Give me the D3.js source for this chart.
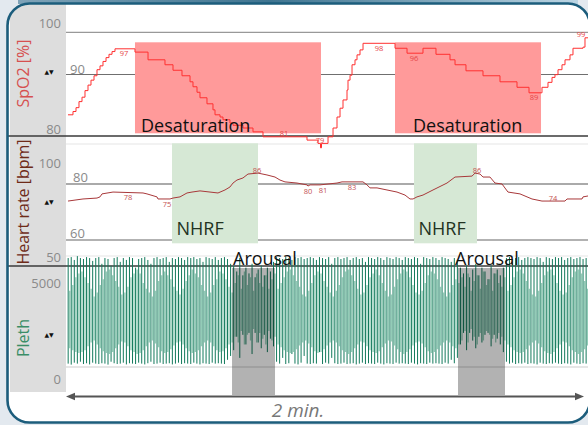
<!DOCTYPE html>
<html><head><meta charset="utf-8">
<script src="https://cdn.jsdelivr.net/npm/d3@7"></script>
<style>html,body{margin:0;padding:0;background:#e3e9ef;overflow:hidden} svg{display:block;font-family:"Open Sans",sans-serif}</style>
</head><body><svg id="c" width="588" height="425"></svg>
<script>
// ---------------- DATA ----------------
// SpO2 [%] (step trace), time in seconds
const spo2Time = [0.46,1.62,2.32,3.01,3.71,4.40,5.10,5.79,6.49,7.18,7.88,8.57,9.27,9.96,10.66,11.35,15.98,19.00,22.93,24.79,26.87,28.73,29.42,30.35,31.04,32.66,34.05,34.52,35.68,36.37,37.99,38.69,41.00,43.32,45.64,55.83,58.38,58.96,59.19,60.70,61.86,62.78,63.48,64.17,65.10,65.33,65.80,66.26,66.95,67.42,68.11,68.81,76.22,79.00,82.70,85.71,88.96,90.12,92.66,96.60,100.54,104.48,107.26,110.27,111.66,112.59,113.28,113.98,114.90,115.60,116.76,117.45,119.77,120.23,121.39];
const spo2Value = [85.0,85.6,86.3,87.4,88.2,89.4,90.4,91.3,92.1,93.2,93.9,94.7,95.4,96.0,96.5,97.0,96.4,95.0,94.1,93.1,92.1,91.0,90.1,89.1,88.1,87.0,85.9,85.0,84.6,84.1,83.5,83.1,82.6,81.9,81.0,80.4,79.8,79.0,79.8,81.0,82.6,84.6,86.2,87.7,89.5,91.3,92.2,94.1,95.0,95.9,96.8,98.0,97.1,96.2,97.1,96.0,95.0,94.1,93.0,92.1,91.0,90.0,89.0,90.0,90.9,91.8,92.3,93.2,94.1,95.0,95.9,97.1,97.3,99.0,99.0];
const spo2Labels = [
  {t:13.44,v:97.0,text:"97",side:"below"},
  {t:50.50,v:81.0,text:"81",side:"above"},
  {t:58.84,v:79.8,text:"79",side:"above"},
  {t:72.51,v:98.0,text:"98",side:"below"},
  {t:80.62,v:96.2,text:"96",side:"below"},
  {t:108.42,v:89.0,text:"89",side:"below"},
  {t:119.30,v:99.0,text:"99",side:"above"}
];
const spo2Ticks = [100, 90, 80];

// Heart rate [bpm]
const hrTime = [0.46,3.94,7.18,7.88,8.34,10.89,17.84,18.76,21.08,21.31,24.09,24.79,26.41,28.03,29.19,31.04,35.21,36.83,37.99,38.69,39.61,41.00,42.16,44.48,46.56,48.42,49.57,50.73,53.51,55.83,56.06,56.53,58.84,62.78,63.94,68.80,69.73,70.42,72.05,74.36,76.68,78.53,79.69,80.39,81.31,82.70,85.02,88.26,90.12,94.05,94.75,95.91,96.60,98.22,99.38,101.00,102.39,105.17,107.95,110.27,115.60,116.06,119.54,119.77,120.93];
const hrValue = [74.0,74.9,75.3,75.8,77.1,77.9,77.5,77.1,75.8,74.9,74.9,75.3,75.8,77.5,77.9,78.4,77.5,78.8,80.1,81.8,83.1,84.0,85.7,86.1,85.3,84.4,83.1,82.3,81.8,81.0,80.5,81.0,81.0,81.8,82.3,82.3,81.0,79.7,79.7,78.8,77.9,76.6,74.9,74.9,75.8,76.6,78.8,81.8,84.4,84.8,86.1,85.7,84.4,84.4,81.8,81.4,77.9,77.1,74.9,74.0,74.0,74.9,74.9,75.8,76.2];
const hrLabels = [
  {t:14.36,v:77.9,text:"78",side:"below"},
  {t:23.40,v:74.9,text:"75",side:"below"},
  {t:44.25,v:86.1,text:"86",side:"above"},
  {t:56.06,v:80.5,text:"80",side:"below"},
  {t:59.54,v:81.0,text:"81",side:"below"},
  {t:66.26,v:82.3,text:"83",side:"below"},
  {t:95.21,v:86.1,text:"86",side:"above"},
  {t:112.82,v:74.0,text:"74",side:"above"}
];
const hrTicks = [100, 80, 60, 50];

// Pleth: one entry per beat (beats sampled every plethBeatInterval s from plethStart)
const plethStart = 0.5, plethBeatInterval = 0.71;
const plethPeak = [
6300,6350,6200,6400,6300,6250,6350,6300,6150,6300,
6350,6000,6300,6250,5900,6300,6350,6100,6300,6200,
6350,6300,5800,6250,6300,6350,6200,6000,6300,6350,
6250,6300,6350,6100,6300,6250,6350,6300,6200,6350,
6300,6350,6250,6300,6100,6350,6300,6250,6350,6200,
6300,6350,6250,6000,
5900,5600,6300,5400,5800,5500,6000,5300,5700,5900,5400,5800,5600,6100,
6350,6300,6250,6350,6300,6200,6350,6300,6350,6250,6300,6350,
6300,6200,6350,6300,6250,6350,6000,6300,6350,6250,
6300,6350,6200,6300,6350,6250,6300,6100,6350,6300,
6250,6350,6300,6200,6350,6300,6250,6350,6300,6200,
6350,6300,6250,6350,6300,6000,6350,6300,6250,6350,
6300,6200,6350,6300,6250,6100,6300,6200,
5800,5500,5900,5300,5700,6000,5400,5800,5600,5200,5900,5500,5700,5400,5800,
6300,6350,6250,6300,6350,6200,6300,
6350,6300,6250,6350,6300,6100,6350,6300,6250,6350,
6300,6350,6200,6300,6350,6250,6300,6350,6250,6300];
const plethTrough = [
800,750,850,800,900,780,820,760,850,800,
780,820,800,750,900,820,780,800,850,760,
820,800,780,850,800,760,820,900,780,800,
850,780,800,820,760,800,850,780,820,800,
780,850,800,760,820,800,780,850,800,820,
800,780,1000,1200,
1500,2200,1100,2300,1800,2400,1300,2400,1900,1600,2300,1400,2100,1700,
900,800,1100,780,820,1300,800,760,850,1200,800,780,
820,800,1400,780,850,800,1100,820,780,800,
850,780,800,820,760,800,850,780,820,800,
780,850,800,760,820,800,780,850,800,820,
800,780,850,800,760,820,800,780,850,800,
820,800,780,850,800,1000,820,1100,
1800,2400,1500,2400,2000,1600,2200,1900,2300,2400,1700,2300,2100,1800,1400,
900,800,850,780,820,800,850,
780,820,800,760,850,800,780,820,800,850,
800,780,820,800,760,850,800,780,820,800];
const plethInnerHigh = [
4600,4900,5300,5500,5600,5300,5000,4700,4300,4500,
4900,5200,5600,5700,5400,5100,4800,4400,4500,4800,
5300,5500,5700,5500,5000,4700,4500,4300,4600,5100,
5400,5600,5400,5200,4800,4600,4400,4700,5100,5400,
5700,5500,5300,4900,4600,4300,4500,4900,5200,5600,
5500,5200,4800,4500,
5000,5400,4700,5600,4900,5300,4600,5500,5000,4800,5400,4700,5200,5500,
4700,5000,5300,5600,5700,5400,5100,4800,4400,4300,4600,5000,
5400,5600,5500,5100,4800,4500,4300,4600,4900,5300,
5600,5700,5400,5100,4700,4400,4500,4900,5300,5500,
5700,5400,5000,4600,4300,4400,4800,5200,5500,5700,
5600,5300,4900,4500,4400,4600,5000,5400,5600,5500,
5200,4800,4500,4300,4500,4900,5200,5000,
5300,4800,5500,4600,5100,5400,4700,5600,4900,5200,4600,5500,5000,4800,5300,
4600,4900,5300,5600,5700,5500,5100,
4700,4400,4300,4600,5000,5400,5600,5700,5400,5000,
4600,4400,4500,4900,5300,5600,5700,5500,5100,4700];
const plethInnerLow = [
1600,1500,1400,1350,1400,1500,1700,1900,2000,1800,
1600,1450,1350,1300,1400,1600,1800,1950,1900,1700,
1500,1400,1300,1350,1500,1700,1900,2000,1850,1650,
1450,1350,1400,1550,1750,1900,1950,1800,1600,1450,
1350,1400,1500,1700,1900,2000,1900,1700,1500,1400,
1450,1600,1800,1900,
2200,1900,2500,1800,2300,2000,2600,1900,2400,2100,1800,2500,2000,2200,
1800,1650,1500,1400,1350,1400,1550,1750,1900,2000,1850,1650,
1450,1350,1400,1550,1750,1900,2000,1900,1700,1500,
1400,1300,1400,1600,1800,1950,1900,1700,1500,1400,
1350,1450,1650,1850,2000,1950,1750,1550,1400,1300,
1400,1550,1750,1900,1950,1850,1650,1450,1350,1400,
1550,1750,1900,2000,1900,1700,1600,1800,
2000,2500,1900,2600,2200,1800,2400,2000,2500,2300,2100,1900,2400,2200,2000,
1800,1650,1500,1400,1350,1400,1550,
1750,1900,2000,1850,1650,1450,1350,1300,1400,1600,
1800,1950,1900,1700,1500,1400,1300,1400,1550,1750];
const plethTicks = [5000, 0];

// Events (seconds)
const desatEvents = [{start:15.98,end:59.07,label:"Desaturation"},{start:76.22,end:110.04,label:"Desaturation"}];
const nhrfEvents = [{start:24.56,end:44.48,label:"NHRF"},{start:80.62,end:95.21,label:"NHRF"}];
const arousalEvents = [{start:38.46,end:48.42,label:"Arousal"},{start:90.81,end:101.70,label:"Arousal"}];
const spanLabel = "2 min.";

// ---------------- DRAW ----------------
const svg = d3.select('#c');
const x = d3.scaleLinear().domain([0,120]).range([66,584]);
const ySp = d3.scaleLinear().domain([100,80]).range([32.3,142.3]);
const spGrid = d3.scaleLinear().domain([100,90,80]).range([32.3,74.5,136]);
const yHr = d3.scaleLinear().domain([100,50]).range([141,256.5]);
const hrGrid = d3.scaleLinear().domain([100,80,60,50]).range([169,184,240,266]);
const yPl = d3.scaleLinear().domain([0,5000]).range([379,283]);

const defs = svg.append('defs');
defs.append('clipPath').attr('id','box').append('rect')
  .attr('x',7.5).attr('y',3.5).attr('width',582.5).attr('height',419).attr('rx',22);
const gr = defs.append('linearGradient').attr('id','topband').attr('x1','0').attr('x2','1');
gr.append('stop').attr('offset','0').attr('stop-color','#7fa3b8');
gr.append('stop').attr('offset','0.45').attr('stop-color','#3f7591');
gr.append('stop').attr('offset','1').attr('stop-color','#bcd5e3');

svg.append('rect').attr('width',588).attr('height',425).attr('fill','#e3e9ef');
svg.append('rect').attr('x',18).attr('y',0).attr('width',560).attr('height',4).attr('fill','url(#topband)');
svg.append('rect').attr('x',7.5).attr('y',3.5).attr('width',582.5).attr('height',419).attr('rx',22).attr('fill','#fff');

const g = svg.append('g').attr('clip-path','url(#box)');
g.append('rect').attr('x',10).attr('y',0).attr('width',56).attr('height',392).attr('fill','#dddddd');

[144, 256, 367].forEach(yy => g.append('line').attr('x1',66).attr('x2',592).attr('y1',yy).attr('y2',yy)
  .attr('stroke','#e6e6e6').attr('stroke-width', yy===367?2:1.2));

g.append('line').attr('x1',66).attr('x2',592).attr('y1',spGrid(100)).attr('y2',spGrid(100)).attr('stroke','#999').attr('stroke-width',1.2);
g.append('line').attr('x1',66).attr('x2',592).attr('y1',spGrid(90)).attr('y2',spGrid(90)).attr('stroke','#6f6f6f').attr('stroke-width',1.2);
g.append('line').attr('x1',66).attr('x2',592).attr('y1',hrGrid(80)).attr('y2',hrGrid(80)).attr('stroke','#aaaaaa').attr('stroke-width',2.2);
g.append('line').attr('x1',66).attr('x2',592).attr('y1',hrGrid(60)).attr('y2',hrGrid(60)).attr('stroke','#666').attr('stroke-width',1.2);

g.selectAll('rect.desat').data(desatEvents).join('rect').attr('class','desat')
  .attr('x',d=>x(d.start)).attr('width',d=>x(d.end)-x(d.start))
  .attr('y',42.3).attr('height',91).attr('fill','#ff9a9a');
g.selectAll('rect.nhrf').data(nhrfEvents).join('rect').attr('class','nhrf')
  .attr('x',d=>x(d.start)).attr('width',d=>x(d.end)-x(d.start))
  .attr('y',143.3).attr('height',100).attr('fill','#d6e8d5');

[136, 266].forEach(yy => g.append('line').attr('x1',8).attr('x2',592).attr('y1',yy).attr('y2',yy)
  .attr('stroke','#3a3a3a').attr('stroke-width',1.4));

const spData = spo2Time.map((t,i)=>({t, v:spo2Value[i]}));
g.append('path').datum(spData)
  .attr('d', d3.line().x(d=>x(d.t)).y(d=>ySp(d.v)).curve(d3.curveStepAfter))
  .attr('fill','none').attr('stroke','#ff3030').attr('stroke-width',1);
g.selectAll('text.spl').data(spo2Labels).join('text').attr('class','spl')
  .attr('x',d=>x(d.t)).attr('y',d=>ySp(d.v)+(d.side==='below'?4.5:-3.5))
  .attr('text-anchor','middle').attr('dominant-baseline','central')
  .attr('font-size',7.5).attr('fill','#e64545').text(d=>d.text);

const hrData = hrTime.map((t,i)=>({t, v:hrValue[i]}));
g.append('path').datum(hrData)
  .attr('d', d3.line().x(d=>x(d.t)).y(d=>yHr(d.v)))
  .attr('fill','none').attr('stroke','#a8383a').attr('stroke-width',1);
g.selectAll('text.hrl').data(hrLabels).join('text').attr('class','hrl')
  .attr('x',d=>x(d.t)).attr('y',d=>yHr(d.v)+(d.side==='below'?5:-3.5))
  .attr('text-anchor','middle').attr('dominant-baseline','central')
  .attr('font-size',7.5).attr('fill','#c45252').text(d=>d.text);

const beatT = i => plethStart + i*plethBeatInterval;
g.selectAll('line.pin').data(plethInnerHigh).join('line').attr('class','pin')
  .attr('x1',(d,i)=>x(beatT(i)+plethBeatInterval/2)).attr('x2',(d,i)=>x(beatT(i)+plethBeatInterval/2))
  .attr('y1',d=>yPl(d)).attr('y2',(d,i)=>yPl(plethInnerLow[i]))
  .attr('stroke','#93ccb7').attr('stroke-width',1.3);
g.selectAll('line.pdk').data(plethPeak).join('line').attr('class','pdk')
  .attr('x1',(d,i)=>x(beatT(i))).attr('x2',(d,i)=>x(beatT(i)))
  .attr('y1',d=>yPl(d)).attr('y2',(d,i)=>yPl(plethTrough[i]))
  .attr('stroke','#137a5c').attr('stroke-width',1);

g.selectAll('rect.ar').data(arousalEvents).join('rect').attr('class','ar')
  .attr('x',d=>x(d.start)).attr('width',d=>x(d.end)-x(d.start))
  .attr('y',268).attr('height',127).attr('fill','#000').attr('fill-opacity',0.3);

const desatLabelX = [141, 413];
g.selectAll('text.dl').data(desatEvents).join('text').attr('class','dl')
  .attr('x',(d,i)=>desatLabelX[i]).attr('y',132).attr('font-size',18).attr('fill','#111').text(d=>d.label);
g.selectAll('text.nl').data(nhrfEvents).join('text').attr('class','nl')
  .attr('x',d=>x(d.start)+4.5).attr('y',235).attr('font-size',18).attr('fill','#223322').text(d=>d.label);
const arLabelX = [233, 455];
g.selectAll('text.al').data(arousalEvents).join('text').attr('class','al')
  .attr('x',(d,i)=>arLabelX[i]).attr('y',265).attr('font-size',18).attr('fill','#111').text(d=>d.label);

const tickCol = '#8a8a8a';
const spLab = d3.scaleLinear().domain([100,90,80]).range([22.5,68.5,129]);
spo2Ticks.forEach((v,i)=>{
  const inside = i>0 && i<spo2Ticks.length-1;
  g.append('text').attr('x', inside?70:61).attr('y', spLab(v)).attr('text-anchor', inside?'start':'end')
    .attr('dominant-baseline','central').attr('font-size',13).attr('fill',tickCol).text(v);
});
const hrLab = d3.scaleLinear().domain([100,80,60,50]).range([162.5,176.5,232.5,257]);
hrTicks.forEach((v,i)=>{
  const inside = i>0 && i<hrTicks.length-1;
  g.append('text').attr('x', inside?(v===80?73:70):61).attr('y', hrLab(v)).attr('text-anchor', inside?'start':'end')
    .attr('dominant-baseline','central').attr('font-size',13).attr('fill',tickCol).text(v);
});
plethTicks.forEach(v=>{
  g.append('text').attr('x',61).attr('y',yPl(v)-0.5).attr('text-anchor','end')
    .attr('dominant-baseline','central').attr('font-size',13).attr('fill',tickCol).text(v);
});

const titles = [{t:"SpO2 [%]",cy:73.5,col:'#d65050'},{t:"Heart rate [bpm]",cy:202,col:'#6e2a18'},{t:"Pleth",cy:338,col:'#3a8d66'}];
titles.forEach(d=>{
  g.append('text').attr('transform',`translate(23,${d.cy}) rotate(-90)`).attr('text-anchor','middle')
    .attr('dominant-baseline','central').attr('font-size',16).attr('fill',d.col).text(d.t);
});
[71, 201, 334].forEach(cy=>{
  g.append('text').attr('x',49).attr('y',cy).attr('text-anchor','middle').attr('dominant-baseline','central')
    .attr('font-size',6).attr('fill','#111').attr('font-family','DejaVu Sans').text('▲▼');
});

const ay = 396.5;
g.append('line').attr('x1',x(0)+6).attr('x2',x(120)-6).attr('y1',ay).attr('y2',ay).attr('stroke','#555').attr('stroke-width',2);
g.append('path').attr('d',`M${x(0)},${ay}L${x(0)+9},${ay-3.8}L${x(0)+9},${ay+3.8}Z`).attr('fill','#555');
g.append('path').attr('d',`M${x(120)},${ay}L${x(120)-9},${ay-3.8}L${x(120)-9},${ay+3.8}Z`).attr('fill','#555');
g.append('text').attr('x',298).attr('y',416.5).attr('text-anchor','middle').attr('font-size',19)
  .attr('font-style','italic').attr('fill','#777').text(spanLabel);

svg.append('rect').attr('x',7.5).attr('y',3.5).attr('width',582.5).attr('height',419).attr('rx',22)
  .attr('fill','none').attr('stroke','#1c5d7c').attr('stroke-width',2.6);
</script></body></html>
